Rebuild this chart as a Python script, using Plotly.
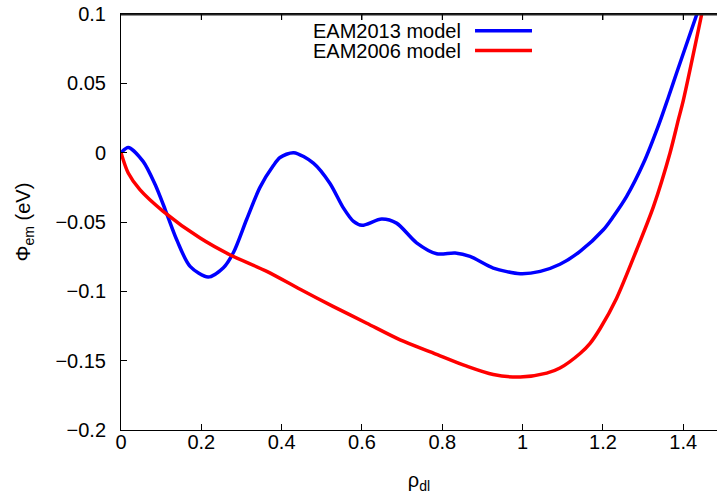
import plotly.graph_objects as go

# EAM2013 model (blue)
x_2013 = [0, 0.018, 0.055, 0.085, 0.11, 0.139, 0.172, 0.217, 0.255, 0.28, 0.313, 0.346,
          0.379, 0.396, 0.43, 0.479, 0.52, 0.554, 0.579, 0.6, 0.649, 0.686, 0.736, 0.786,
          0.832, 0.869, 0.927, 0.994, 1.044, 1.093, 1.143, 1.201, 1.226, 1.259, 1.301,
          1.34, 1.363, 1.384, 1.434]
y_2013 = [0, 0.0038, -0.0063, -0.023, -0.041, -0.063, -0.082, -0.0897, -0.083, -0.072,
          -0.048, -0.025, -0.0095, -0.0035, 0.0, -0.0075, -0.022, -0.04, -0.0496, -0.0524,
          -0.0479, -0.0508, -0.065, -0.0729, -0.0724, -0.0748, -0.0832, -0.0873, -0.0856,
          -0.0805, -0.0712, -0.0556, -0.046, -0.0315, -0.0075, 0.021, 0.040, 0.058, 0.1]

# EAM2006 model (red)
x_2006 = [0, 0.018, 0.047, 0.105, 0.197, 0.271, 0.363, 0.446, 0.529, 0.612, 0.695, 0.778,
          0.861, 0.927, 0.994, 1.06, 1.093, 1.143, 1.168, 1.193, 1.234, 1.284, 1.326, 1.367,
          1.388, 1.4, 1.446]
y_2006 = [0, -0.0147, -0.0267, -0.0423, -0.0616, -0.0736, -0.0856, -0.0985, -0.111,
          -0.123, -0.135, -0.1445, -0.154, -0.160, -0.1618, -0.159, -0.1553, -0.1448,
          -0.1375, -0.1268, -0.1049, -0.07, -0.0387, -0.0002, 0.024, 0.0375, 0.1]

x_ticks = [0, 0.2, 0.4, 0.6, 0.8, 1.0, 1.2, 1.4]
x_labels = ["0", "0.2", "0.4", "0.6", "0.8", "1", "1.2", "1.4"]
y_ticks = [-0.2, -0.15, -0.1, -0.05, 0, 0.05, 0.1]
y_labels = ["\u22120.2", "\u22120.15", "\u22120.1", "\u22120.05", "0", "0.05", "0.1"]

names = ["EAM2013 model", "EAM2006 model"]
colors = ["#0000ff", "#ff0000"]

FONT = "Liberation Sans, Arial, Helvetica, sans-serif"

fig = go.Figure()
fig.add_trace(go.Scatter(x=x_2013, y=y_2013, mode="lines", name=names[0],
                         line=dict(color=colors[0], width=3.5, shape="spline", smoothing=0.8)))
fig.add_trace(go.Scatter(x=x_2006, y=y_2006, mode="lines", name=names[1],
                         line=dict(color=colors[1], width=3.5, shape="spline", smoothing=0.8)))

# gnuplot-style key: text right-aligned, sample line to the right
key_y = [0.96, 0.912]
for i, (nm, c) in enumerate(zip(names, colors)):
    fig.add_annotation(xref="paper", yref="paper", x=0.5733, y=key_y[i], text=nm,
                       showarrow=False, xanchor="right", yanchor="middle",
                       font=dict(family=FONT, size=20, color="black"))
    fig.add_shape(type="line", xref="paper", yref="paper", x0=0.594, x1=0.6896,
                  y0=key_y[i], y1=key_y[i], line=dict(color=c, width=3.5))

# top border of the frame with inward ticks (gnuplot style)
fig.add_shape(type="line", xref="paper", yref="paper", x0=0, x1=1,
              y0=1 - 0.6 / 416, y1=1 - 0.6 / 416,
              line=dict(color="#222222", width=1.6), layer="above")
for t in x_ticks[1:]:
    fig.add_shape(type="line", xref="x", yref="paper", x0=t, x1=t, y0=1, y1=1 - 6 / 416,
                  line=dict(color="black", width=1), layer="above")

fig.update_layout(
    width=717, height=496,
    margin=dict(l=121, r=0, t=14, b=66, autoexpand=False),
    paper_bgcolor="white", plot_bgcolor="white",
    showlegend=False,
    font=dict(family=FONT, size=20, color="black"),
    xaxis=dict(range=[0, 1.484], tickvals=x_ticks, ticktext=x_labels, automargin=False,
               ticks="inside", ticklen=6, tickcolor="black", mirror="ticks",
               showline=True, linecolor="black", linewidth=1, showgrid=False,
               zeroline=False, ticklabelstandoff=-6, ticklabeloverflow="allow",
               title=dict(text="\u03c1<sub>dl</sub>", standoff=20,
                          font=dict(family=FONT, size=20))),
    yaxis=dict(range=[-0.2, 0.1], tickvals=y_ticks, ticktext=y_labels, automargin=False,
               ticks="inside", ticklen=6, tickcolor="black",
               showline=True, linecolor="black", linewidth=1, showgrid=False,
               zeroline=False, ticklabelstandoff=10, ticklabeloverflow="allow",
               title=dict(text="\u03a6<sub>em</sub> (eV)", standoff=19,
                          font=dict(family=FONT, size=20))),
)

# remove the default 8px page margin so the figure fills the window exactly
fig.write_html("out.html", config={"displayModeBar": False},
               post_script="document.body.style.margin='0';")
